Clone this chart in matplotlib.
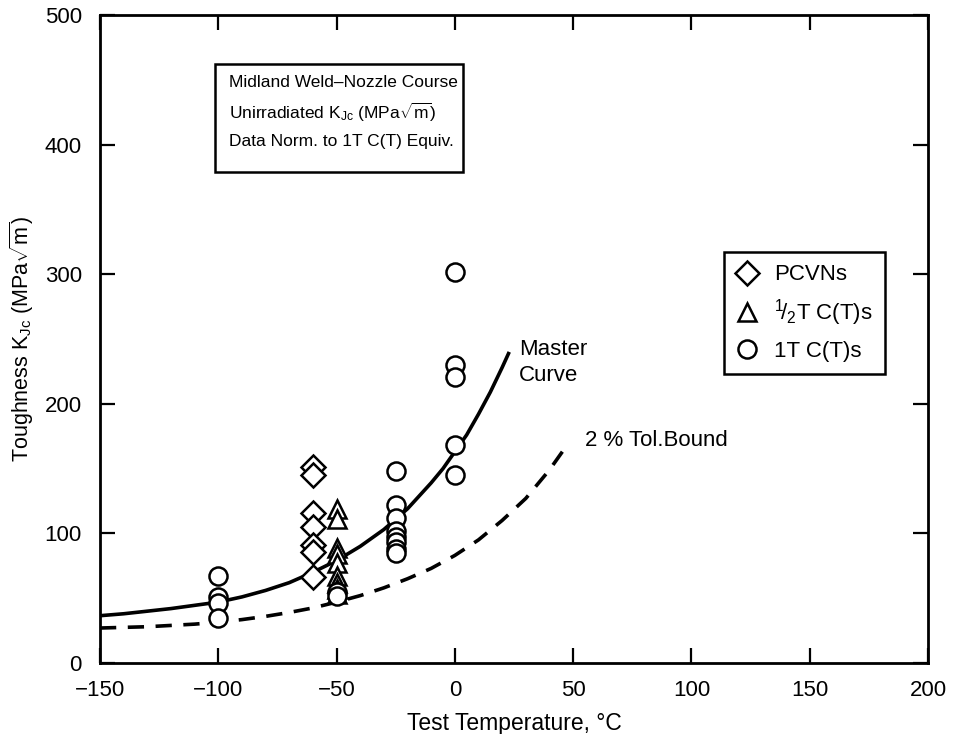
# Midland weld - master curve chart

import matplotlib
matplotlib.use("Agg")
import matplotlib.pyplot as plt
from matplotlib.patches import Rectangle

plt.rcParams['font.family'] = ['Liberation Sans', 'DejaVu Sans']
plt.rcParams['mathtext.fontset'] = 'custom'
plt.rcParams['mathtext.rm'] = 'Liberation Sans'
plt.rcParams['mathtext.it'] = 'Liberation Sans:italic'

# data
pcvn_t = [-60, -60, -60, -60, -60, -60, -60]
pcvn_k = [151, 145, 116, 105, 91, 86, 66]

half_t = [-50, -50, -50, -50, -50, -50, -50, -50, -50]
half_k = [119, 111, 89, 84, 77, 67, 62, 57, 53]

one_t = [-100, -100, -100, -100, -50, -50,
         -25, -25, -25, -25, -25, -25, -25, -25,
         0, 0, 0, 0, 0]
one_k = [67, 51, 46, 35, 55, 52,
         148, 122, 112, 102, 97, 93, 88, 85,
         302, 230, 221, 168, 145]

master_t = [-150, -140, -130, -120, -110, -100, -90, -80, -70, -60, -50,
            -40, -30, -20, -10, -5, 0, 5, 10, 15, 20, 23]
master_k = [36.5, 38, 40, 42, 44.5, 47, 51, 56, 62, 70, 79,
            90, 103, 119, 139, 150, 163, 176, 192, 209, 228, 240]

bound_t = [-150, -140, -130, -120, -110, -100, -90, -80, -70, -60, -50,
           -40, -30, -20, -10, 0, 10, 20, 30, 40, 47]
bound_k = [27, 27.5, 28, 29, 30, 31.5, 33.5, 36, 39, 42.5, 47,
           52, 58, 65, 73, 83, 95, 110, 127, 149, 167]

box_lines = ['Midland Weld\u2013Nozzle Course',
             r'Unirradiated K$_{\mathrm{Jc}}$ (MPa$\sqrt{\mathrm{m}}$)',
             'Data Norm. to 1T C(T) Equiv.']


def main():
    fig = plt.figure(figsize=(9.55, 7.34), dpi=100)
    ax = fig.add_axes([0.1047, 0.0967, 0.867, 0.883])

    ax.plot(master_t, master_k, color='black', lw=2.6, solid_capstyle='butt')
    ax.plot(bound_t, bound_k, color='black', lw=2.6, dashes=(4.5, 3.2))

    mk = dict(linestyle='none', markerfacecolor='white', markeredgecolor='black',
              markeredgewidth=1.8, zorder=3)
    ax.plot(pcvn_t, pcvn_k, marker='D', markersize=12.5, label='PCVNs', **mk)
    ax.plot(half_t, half_k, marker='^', markersize=12.5,
            label=r'$^{1}\!/_{2}$T C(T)s', **mk)
    ax.plot(one_t, one_k, marker='o', markersize=13, label='1T C(T)s', **mk)

    ax.set_xlim(-150, 200)
    ax.set_ylim(0, 500)
    ax.set_xticks(range(-150, 201, 50))
    ax.set_yticks(range(0, 501, 100))
    ax.set_xticklabels(['\u2212150', '\u2212100', '\u221250', '0', '50', '100', '150', '200'])
    ax.tick_params(direction='in', length=11, width=1.6, labelsize=16,
                   top=True, right=True)
    ax.tick_params(axis='x', pad=12)
    ax.tick_params(axis='y', pad=13)
    for s in ax.spines.values():
        s.set_linewidth(2)

    ax.set_xlabel('Test Temperature, \u00b0C', fontsize=16.5, labelpad=8)
    ax.set_ylabel(r'Toughness K$_{\mathrm{Jc}}$ (MPa$\sqrt{\mathrm{m}}$)', fontsize=15.5,
                  labelpad=6)

    # info box
    ax.add_patch(Rectangle((0.139, 0.758), 0.300, 0.166, transform=ax.transAxes,
                           facecolor='white', edgecolor='black', lw=1.8, zorder=4))
    for line, yy in zip(box_lines, [0.895, 0.850, 0.804]):
        ax.text(0.156, yy, line, transform=ax.transAxes, fontsize=12.5,
                va='center', ha='left', zorder=5)

    ax.text(27, 250, 'Master\nCurve', fontsize=16, va='top', ha='left',
            linespacing=1.3)
    ax.text(55, 180, '2 % Tol.Bound', fontsize=16, va='top', ha='left')

    leg = ax.legend(loc='upper right', bbox_to_anchor=(0.948, 0.634),
                    borderaxespad=0, fancybox=False, edgecolor='black',
                    framealpha=1, fontsize=16, handlelength=1.0,
                    handletextpad=0.7, labelspacing=0.55, borderpad=0.55)
    leg.get_frame().set_linewidth(1.8)

    fig.savefig('out.png', dpi=100)


if __name__ == '__main__':
    main()
